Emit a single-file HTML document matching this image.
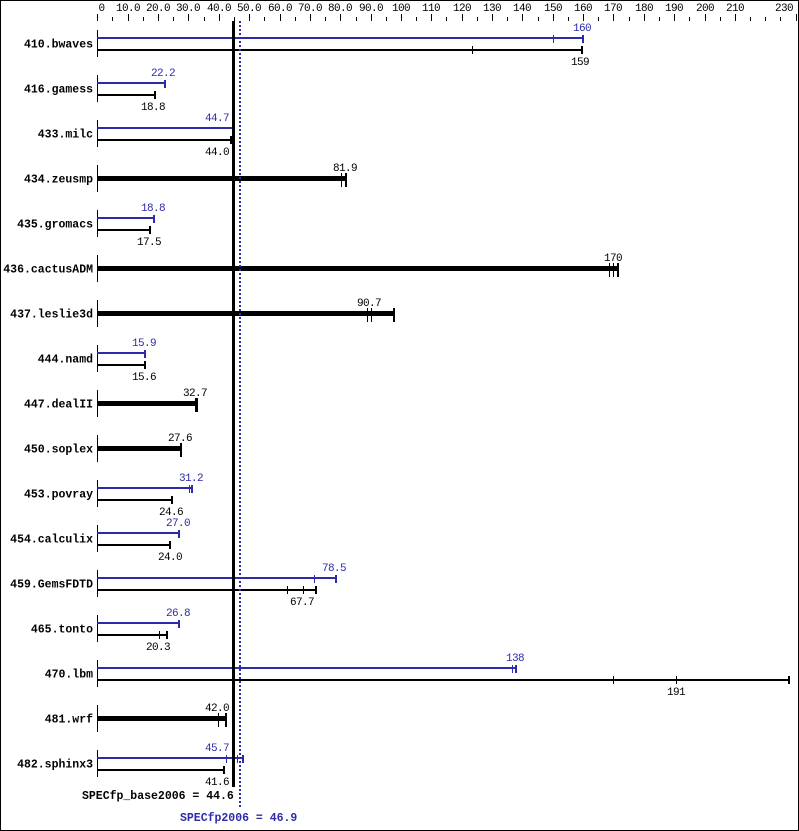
<!DOCTYPE html>
<html><head><meta charset="utf-8"><style>
html,body{margin:0;padding:0;background:#fff;}
svg{display:block;}
.t{font-family:"Liberation Mono","DejaVu Sans Mono",monospace;font-size:11px;letter-spacing:-0.6px;}
.b{font-family:"Liberation Mono","DejaVu Sans Mono",monospace;font-size:11.5px;font-weight:bold;}
.bl{fill:#2b2bab;}
</style></head><body>
<svg width="799" height="831" viewBox="0 0 799 831" xmlns="http://www.w3.org/2000/svg" shape-rendering="crispEdges">
<rect x="0" y="0" width="799" height="831" fill="#fff"/>
<rect x="0.5" y="0.5" width="798" height="830" fill="none" stroke="#000" stroke-width="1"/>
<!-- axis ticks -->
<path stroke="#000" stroke-width="1" fill="none" d="M97.5 14V21M128.5 14V21M158.5 14V21M188.5 14V21M219.5 14V21M249.5 14V21M280.5 14V21M310.5 14V21M340.5 14V21M371.5 14V21M401.5 14V21M431.5 14V21M462.5 14V21M492.5 14V21M522.5 14V21M553.5 14V21M583.5 14V21M613.5 14V21M644.5 14V21M674.5 14V21M705.5 14V21M735.5 14V21M796.5 14V21
M112.5 17V21M143.5 17V21M173.5 17V21M204.5 17V21M234.5 17V21M264.5 17V21M295.5 17V21M325.5 17V21M356.5 17V21M386.5 17V21M416.5 17V21M446.5 17V21M477.5 17V21M507.5 17V21M538.5 17V21M568.5 17V21M598.5 17V21M629.5 17V21M659.5 17V21M689.5 17V21M720.5 17V21M750.5 17V21M765.5 17V21M780.5 17V21"/>
<g class="t" text-anchor="middle" fill="#000">
<text x="101.5" y="11">0</text><text x="128" y="11">10.0</text><text x="158" y="11">20.0</text><text x="188" y="11">30.0</text><text x="219" y="11">40.0</text><text x="249" y="11">50.0</text><text x="280" y="11">60.0</text><text x="310" y="11">70.0</text><text x="340" y="11">80.0</text><text x="371" y="11">90.0</text><text x="401" y="11">100</text><text x="431" y="11">110</text><text x="462" y="11">120</text><text x="492" y="11">130</text><text x="522" y="11">140</text><text x="553" y="11">150</text><text x="583" y="11">160</text><text x="613" y="11">170</text><text x="644" y="11">180</text><text x="674" y="11">190</text><text x="705" y="11">200</text><text x="735" y="11">210</text><text x="784" y="11">230</text>
</g>
<!-- row axis ticks -->
<g fill="#000">
<rect x="97" y="30" width="1" height="27"/><rect x="97" y="75" width="1" height="27"/><rect x="97" y="120" width="1" height="27"/><rect x="97" y="165" width="1" height="27"/><rect x="97" y="210" width="1" height="27"/><rect x="97" y="255" width="1" height="27"/><rect x="97" y="300" width="1" height="27"/><rect x="97" y="345" width="1" height="27"/><rect x="97" y="390" width="1" height="27"/><rect x="97" y="435" width="1" height="27"/><rect x="97" y="480" width="1" height="27"/><rect x="97" y="525" width="1" height="27"/><rect x="97" y="570" width="1" height="27"/><rect x="97" y="615" width="1" height="27"/><rect x="97" y="660" width="1" height="27"/><rect x="97" y="705" width="1" height="27"/><rect x="97" y="750" width="1" height="27"/>
</g>
<!-- benchmark names -->
<g class="b" text-anchor="end" fill="#000">
<text x="93" y="47.5">410.bwaves</text><text x="93" y="92.5">416.gamess</text><text x="93" y="137.5">433.milc</text><text x="93" y="182.5">434.zeusmp</text><text x="93" y="227.5">435.gromacs</text><text x="93" y="272.5">436.cactusADM</text><text x="93" y="317.5">437.leslie3d</text><text x="93" y="362.5">444.namd</text><text x="93" y="407.5">447.dealII</text><text x="93" y="452.5">450.soplex</text><text x="93" y="497.5">453.povray</text><text x="93" y="542.5">454.calculix</text><text x="93" y="587.5">459.GemsFDTD</text><text x="93" y="632.5">465.tonto</text><text x="93" y="677.5">470.lbm</text><text x="93" y="722.5">481.wrf</text><text x="93" y="767.5">482.sphinx3</text>
</g>
<!-- blue peak bars -->
<g class="bl">
<rect x="97" y="37" width="486" height="2"/><rect x="582" y="35" width="2" height="8"/><rect x="553" y="35" width="1" height="8"/>
<rect x="97" y="82" width="68" height="2"/><rect x="164" y="80" width="2" height="8"/>
<rect x="97" y="127" width="136" height="2"/><rect x="232" y="125" width="2" height="8"/>
<rect x="97" y="217" width="57" height="2"/><rect x="153" y="215" width="2" height="8"/>
<rect x="97" y="352" width="48" height="2"/><rect x="144" y="350" width="2" height="8"/>
<rect x="97" y="487" width="95" height="2"/><rect x="191" y="485" width="2" height="8"/><rect x="189" y="485" width="1" height="8"/>
<rect x="97" y="532" width="82" height="2"/><rect x="178" y="530" width="2" height="8"/>
<rect x="97" y="577" width="239" height="2"/><rect x="335" y="575" width="2" height="8"/><rect x="314" y="575" width="1" height="8"/>
<rect x="97" y="622" width="82" height="2"/><rect x="178" y="620" width="2" height="8"/>
<rect x="97" y="667" width="419" height="2"/><rect x="515" y="665" width="2" height="8"/><rect x="512" y="665" width="1" height="8"/>
<rect x="97" y="757" width="146" height="2"/><rect x="242" y="755" width="2" height="8"/><rect x="226" y="755" width="1" height="8"/><rect x="237" y="755" width="1" height="8"/>
</g>
<!-- black base bars (thin) -->
<g fill="#000">
<rect x="97" y="49" width="485" height="2"/><rect x="581" y="46" width="2" height="8"/><rect x="472" y="46" width="1" height="8"/>
<rect x="97" y="94" width="58" height="2"/><rect x="154" y="91" width="2" height="8"/>
<rect x="97" y="139" width="134" height="2"/><rect x="230" y="136" width="2" height="8"/>
<rect x="97" y="229" width="53" height="2"/><rect x="149" y="226" width="2" height="8"/>
<rect x="97" y="364" width="48" height="2"/><rect x="144" y="361" width="2" height="8"/>
<rect x="97" y="499" width="75" height="2"/><rect x="171" y="496" width="2" height="8"/>
<rect x="97" y="544" width="73" height="2"/><rect x="169" y="541" width="2" height="8"/>
<rect x="97" y="589" width="219" height="2"/><rect x="315" y="586" width="2" height="8"/><rect x="287" y="586" width="1" height="8"/><rect x="303" y="586" width="1" height="8"/>
<rect x="97" y="634" width="70" height="2"/><rect x="166" y="631" width="2" height="8"/><rect x="159" y="631" width="1" height="8"/>
<rect x="97" y="679" width="692" height="2"/><rect x="788" y="676" width="2" height="8"/><rect x="613" y="676" width="1" height="8"/><rect x="676" y="676" width="1" height="8"/>
<rect x="97" y="769" width="127" height="2"/><rect x="223" y="766" width="2" height="8"/>
<!-- thick bars -->
<rect x="97" y="176" width="249" height="5"/><rect x="345" y="173" width="2" height="14"/><rect x="341" y="173" width="1" height="14"/>
<rect x="97" y="266" width="521" height="5"/><rect x="617" y="263" width="2" height="14"/><rect x="609" y="263" width="1" height="14"/><rect x="613" y="263" width="1" height="14"/>
<rect x="97" y="311" width="297" height="5"/><rect x="393" y="308" width="2" height="14"/><rect x="367" y="308" width="1" height="14"/><rect x="371" y="308" width="1" height="14"/>
<rect x="97" y="401" width="100" height="5"/><rect x="195" y="398" width="3" height="14"/>
<rect x="97" y="446" width="84" height="5"/><rect x="180" y="443" width="2" height="14"/>
<rect x="97" y="716" width="129" height="5"/><rect x="225" y="713" width="2" height="14"/><rect x="218" y="713" width="1" height="14"/>
</g>
<!-- value labels -->
<g class="t bl" text-anchor="middle">
<text x="582" y="31">160</text><text x="163" y="76">22.2</text><text x="217" y="121">44.7</text><text x="153" y="211">18.8</text><text x="144" y="346">15.9</text><text x="191" y="481">31.2</text><text x="178" y="526">27.0</text><text x="334" y="571">78.5</text><text x="178" y="616">26.8</text><text x="515" y="661">138</text><text x="217" y="751">45.7</text>
</g>
<g class="t" text-anchor="middle" fill="#000">
<text x="580" y="65">159</text><text x="153" y="110">18.8</text><text x="217" y="155">44.0</text><text x="345" y="171">81.9</text><text x="149" y="245">17.5</text><text x="613" y="261">170</text><text x="369" y="306">90.7</text><text x="144" y="380">15.6</text><text x="195" y="396">32.7</text><text x="180" y="441">27.6</text><text x="171" y="515">24.6</text><text x="170" y="560">24.0</text><text x="302" y="605">67.7</text><text x="158" y="650">20.3</text><text x="676" y="695">191</text><text x="217" y="711">42.0</text><text x="217" y="785">41.6</text>
</g>
<!-- reference lines -->
<rect x="232" y="21" width="3" height="766" fill="#000"/>
<line x1="240" y1="21" x2="240" y2="808" stroke="#2b2bab" stroke-width="2" stroke-dasharray="2 2"/>
<text class="b" x="82" y="799" fill="#000">SPECfp_base2006 = 44.6</text>
<text class="b bl" x="180" y="821">SPECfp2006 = 46.9</text>
</svg>
</body></html>
